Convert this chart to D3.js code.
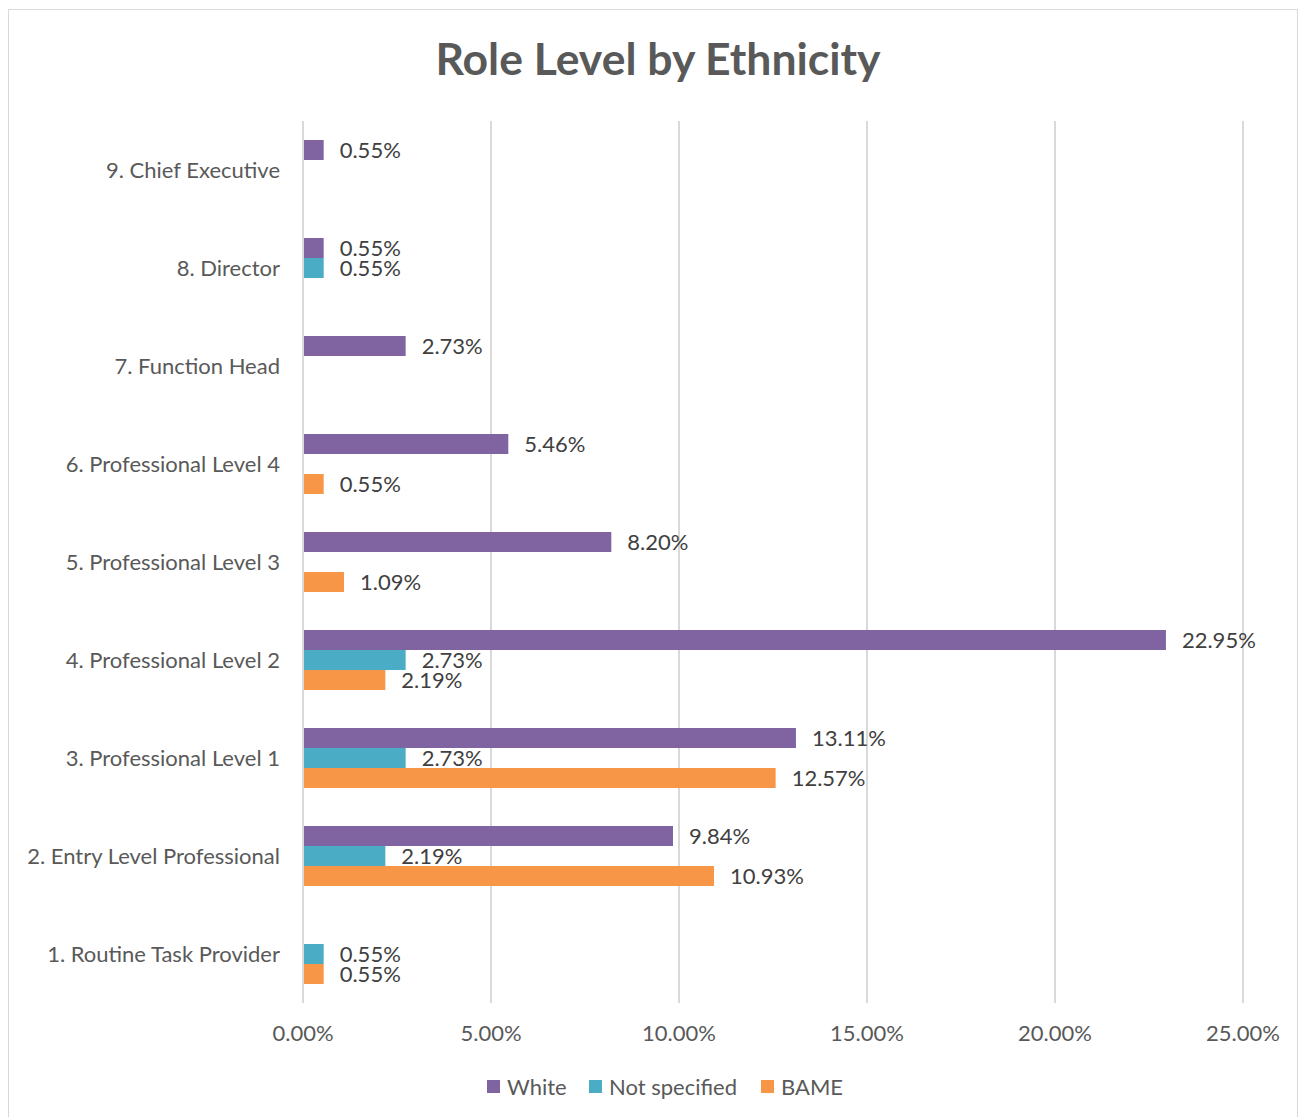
<!DOCTYPE html>
<html><head><meta charset="utf-8">
<script src="https://cdn.jsdelivr.net/npm/d3@7"></script>
<style>body{margin:0;background:#fff}svg{display:block}text{font-family:Lato,"Open Sans",sans-serif}</style>
</head><body>
<svg id="c" width="1299" height="1117"></svg>
<script>
const categories = ["1. Routine Task Provider","2. Entry Level Professional","3. Professional Level 1","4. Professional Level 2","5. Professional Level 3","6. Professional Level 4","7. Function Head","8. Director","9. Chief Executive"];
const seriesNames = ["White","Not specified","BAME"];
const white = [null, 9.84, 13.11, 22.95, 8.20, 5.46, 2.73, 0.55, 0.55];
const notSpecified = [0.55, 2.19, 2.73, 2.73, null, null, null, 0.55, null];
const bame = [0.55, 10.93, 12.57, 2.19, 1.09, 0.55, null, null, null];
const xTicks = [0, 5, 10, 15, 20, 25];
const colors = ["#8064A2", "#4BACC6", "#F79646"];
const seriesValues = [white, notSpecified, bame];

const svg = d3.select("#c");
svg.append("rect").attr("x",8.5).attr("y",9.5).attr("width",1289).attr("height",1120).attr("fill","#fff").attr("stroke","#d9d9d9");

svg.append("text").attr("x",658).attr("y",75).attr("text-anchor","middle")
  .attr("font-size",44.5).attr("font-weight","bold").attr("fill","#595959").text("Role Level by Ethnicity");

const x = d3.scaleLinear().domain([0,25]).range([303,1243]);
const y0 = d3.scaleBand().domain(categories.slice().reverse()).range([121,1003]);
const y1 = d3.scaleBand().domain(seriesNames).range([y0.bandwidth()/2 - 30, y0.bandwidth()/2 + 30]);

// gridlines
svg.append("g").selectAll("line").data(xTicks).join("line")
  .attr("x1", d=>x(d)).attr("x2", d=>x(d)).attr("y1",121).attr("y2",1003)
  .attr("stroke","#d9d9d9").attr("stroke-width",2);

// x tick labels
svg.append("g").selectAll("text").data(xTicks).join("text")
  .attr("x", d=>x(d)).attr("y",1041).attr("text-anchor","middle")
  .attr("font-size",22).attr("fill","#595959").text(d=>d.toFixed(2)+"%");

// category labels
svg.append("g").selectAll("text").data(categories).join("text")
  .attr("x",280).attr("y", d=>y0(d)+y0.bandwidth()/2).attr("dy","0.35em").attr("text-anchor","end")
  .attr("font-size",22).attr("fill","#595959").text(d=>d);

const marks = [];
seriesNames.forEach((s,si)=>{
  categories.forEach((c,ci)=>{
    const v = seriesValues[si][ci];
    if (v != null) marks.push({s, si, c, v});
  });
});

const g = svg.append("g");
g.selectAll("rect").data(marks).join("rect")
  .attr("x", x(0)+1).attr("y", d=>y0(d.c)+y1(d.s))
  .attr("width", d=>x(d.v)-x(0)-1).attr("height", y1.bandwidth())
  .attr("fill", d=>colors[d.si]);
g.selectAll("text").data(marks).join("text")
  .attr("x", d=>x(d.v)+16).attr("y", d=>y0(d.c)+y1(d.s)+y1.bandwidth()/2).attr("dy","0.35em")
  .attr("font-size",22).attr("fill","#404040").text(d=>d.v.toFixed(2)+"%");

// legend
const legendX = [487, 589, 761];
const lg = svg.append("g");
seriesNames.forEach((s,i)=>{
  lg.append("rect").attr("x",legendX[i]).attr("y",1080).attr("width",13).attr("height",13).attr("fill",colors[i]);
  lg.append("text").attr("x",legendX[i]+20).attr("y",1087).attr("dy","0.35em").attr("font-size",22).attr("fill","#595959").text(s);
});
</script>
</body></html>
